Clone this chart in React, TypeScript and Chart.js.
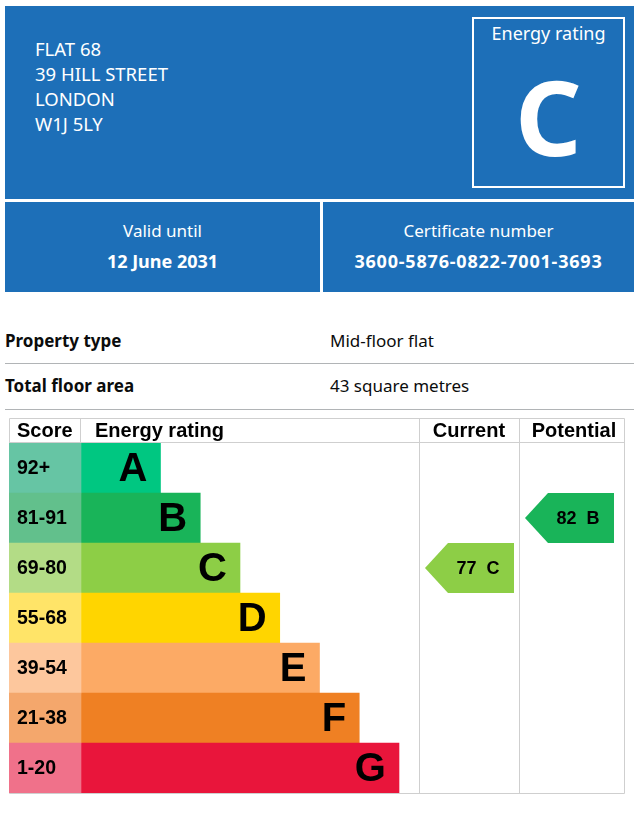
import React, { useEffect, useRef } from "react";
import { Chart, registerables } from "chart.js";

Chart.register(...registerables);

// ---- data ----
const addressLines = ["FLAT 68", "39 HILL STREET", "LONDON", "W1J 5LY"];
const headlineRating = "C";
const validUntil = "12 June 2031";
const certificateNumber = "3600-5876-0822-7001-3693";
const propertyLabels = ["Property type", "Total floor area"];
const propertyValues = ["Mid-floor flat", "43 square metres"];

const ratings = ["A", "B", "C", "D", "E", "F", "G"];
const scoreBands = ["92+", "81-91", "69-80", "55-68", "39-54", "21-38", "1-20"];
const bandMinimums = [92, 81, 69, 55, 39, 21, 1];
const barLengths = [2, 3, 4, 5, 6, 7, 8];
const barColors = ["#00c781", "#19b459", "#8dce46", "#ffd500", "#fcaa65", "#ef8023", "#e9153b"];
const scoreColors = ["#66c5a4", "#62c08c", "#b3dc86", "#ffe468", "#fdc79d", "#f4a76c", "#f0718a"];
const currentScore = 77;
const potentialScore = 82;
const columnTitles = ["Score", "Energy rating", "Current", "Potential"];

// scale layout (in x-axis units)
const X_MAX = 15.497;
const SCORE_COL = 1.811;
const CURRENT_COL = 10.314;
const POTENTIAL_COL = 12.83;

const BLUE = "#1d6fb8";
const INK = "#0b0c0c";
const ARIAL = "'Liberation Sans', Arial, sans-serif";
const GDS = "'Noto Sans', sans-serif";

const bandOf = (score: number) => bandMinimums.findIndex((m) => score >= m);

const epcPlugin = {
  id: "epcTable",
  beforeDatasetsDraw(chart: any) {
    const { ctx, chartArea, scales } = chart;
    const x = scales.x;
    const W = chart.width;
    ctx.save();
    ctx.strokeStyle = "#cfcfcf";
    ctx.lineWidth = 1;
    const bottom = chartArea.bottom + 0.5;
    ctx.beginPath();
    ctx.rect(0.5, 0.5, W - 1, bottom - 0.5);
    ctx.moveTo(0, chartArea.top - 0.5);
    ctx.lineTo(W, chartArea.top - 0.5);
    const d = Math.round(x.getPixelForValue(SCORE_COL)) - 0.5;
    ctx.moveTo(d, 0);
    ctx.lineTo(d, chartArea.top);
    for (const v of [CURRENT_COL, POTENTIAL_COL]) {
      const px = Math.round(x.getPixelForValue(v)) + 0.5;
      ctx.moveTo(px, 0);
      ctx.lineTo(px, bottom);
    }
    ctx.stroke();
    ctx.restore();
  },
  afterDatasetsDraw(chart: any) {
    const { ctx, chartArea, scales } = chart;
    const x = scales.x;
    const y = scales.y;
    ctx.save();
    ctx.fillStyle = "#000";
    ctx.textBaseline = "middle";

    const hy = chartArea.top / 2 + 1;
    ctx.font = `bold 20px ${ARIAL}`;
    ctx.textAlign = "left";
    ctx.fillText(columnTitles[0], 8, hy);
    ctx.fillText(columnTitles[1], x.getPixelForValue(SCORE_COL) + 14, hy);
    ctx.textAlign = "center";
    const cL = x.getPixelForValue(CURRENT_COL);
    const pL = x.getPixelForValue(POTENTIAL_COL);
    const pR = x.getPixelForValue(X_MAX);
    ctx.fillText(columnTitles[2], (cL + pL) / 2, hy);
    ctx.fillText(columnTitles[3], (pL + pR) / 2 + 2, hy);

    ratings.forEach((r, i) => {
      const cy = y.getPixelForValue(i);
      ctx.textAlign = "left";
      ctx.font = `bold 19.5px ${ARIAL}`;
      ctx.fillText(scoreBands[i], 8, cy + 1);
      ctx.textAlign = "right";
      ctx.font = `bold 40px ${ARIAL}`;
      ctx.fillText(r, x.getPixelForValue(SCORE_COL + barLengths[i]) - 13, cy + 2);
    });

    const rowH = y.getPixelForValue(1) - y.getPixelForValue(0);
    const arrowW = pL - cL - 11;
    const drawArrow = (colLeft: number, score: number) => {
      const b = bandOf(score);
      const cy = y.getPixelForValue(b);
      const top = cy - rowH / 2;
      const bot = cy + rowH / 2;
      const tip = colLeft + 6;
      const corner = tip + 23;
      const right = tip + arrowW;
      ctx.fillStyle = barColors[b];
      ctx.beginPath();
      ctx.moveTo(tip, cy);
      ctx.lineTo(corner, top);
      ctx.lineTo(right, top);
      ctx.lineTo(right, bot);
      ctx.lineTo(corner, bot);
      ctx.closePath();
      ctx.fill();
      ctx.fillStyle = "#000";
      ctx.font = `bold 18px ${ARIAL}`;
      ctx.textAlign = "center";
      ctx.fillText(`${score}  ${ratings[b]}`, (corner + right) / 2 - 3, cy + 1);
    };
    drawArrow(cL, currentScore);
    drawArrow(pL, potentialScore);
    ctx.restore();
  },
};

function EpcChart() {
  const ref = useRef<HTMLCanvasElement>(null);
  useEffect(() => {
    if (!ref.current) return;
    const chart = new Chart(ref.current, {
      type: "bar",
      data: {
        labels: ratings,
        datasets: [
          {
            label: "Score",
            data: ratings.map(() => [0, SCORE_COL]) as any,
            backgroundColor: scoreColors,
            grouped: false,
            barPercentage: 1,
            categoryPercentage: 1,
            borderWidth: 0,
          } as any,
          {
            label: "Energy rating",
            data: barLengths.map((l) => [SCORE_COL, SCORE_COL + l]) as any,
            backgroundColor: barColors,
            grouped: false,
            barPercentage: 1,
            categoryPercentage: 1,
            borderWidth: 0,
          } as any,
        ],
      },
      options: {
        indexAxis: "y",
        animation: false,
        responsive: false,
        maintainAspectRatio: false,
        layout: { padding: { top: 25, bottom: 2, left: 0, right: 0 } },
        plugins: { legend: { display: false }, tooltip: { enabled: false } },
        scales: {
          x: { type: "linear", min: 0, max: X_MAX, display: false },
          y: { type: "category", display: false },
        },
      },
      plugins: [epcPlugin],
    });
    return () => chart.destroy();
  }, []);
  return <canvas ref={ref} width={616} height={377} style={{ position: "absolute", left: 9, top: 418, width: 616, height: 377 }} />;
}

const abs = (l: number, t: number, w: number, h: number, extra: any = {}) => ({
  position: "absolute" as const,
  left: l,
  top: t,
  width: w,
  height: h,
  ...extra,
});

export default function App() {
  return (
    <div style={{ position: "absolute", left: 0, top: 0, width: 641, height: 832, background: "#fff", fontFamily: GDS, color: INK }}>
      <div style={abs(5, 6, 629, 193, { background: BLUE })} />
      {addressLines.map((line, i) => (
        <div key={i} style={abs(35, 36 + i * 25, 300, 25, { color: "#fff", fontSize: 18.5, lineHeight: "25px" })}>
          {line}
        </div>
      ))}
      <div style={abs(472, 17, 153, 171, { border: "2px solid #fff", boxSizing: "border-box" })} />
      <div style={abs(472, 20, 153, 26, { color: "#fff", fontSize: 18, lineHeight: "26px", textAlign: "center" })}>Energy rating</div>
      <div style={abs(472, 56, 153, 120, { color: "#fff", fontSize: 104, fontWeight: 700, lineHeight: "120px", textAlign: "center" })}>
        {headlineRating}
      </div>

      <div style={abs(5, 202, 315, 90, { background: BLUE })} />
      <div style={abs(323, 202, 311, 90, { background: BLUE })} />
      <div style={abs(5, 218, 315, 26, { color: "#fff", fontSize: 17, lineHeight: "26px", textAlign: "center" })}>Valid until</div>
      <div style={abs(5, 248, 315, 26, { color: "#fff", fontSize: 18, fontWeight: 700, lineHeight: "26px", textAlign: "center" })}>{validUntil}</div>
      <div style={abs(323, 218, 311, 26, { color: "#fff", fontSize: 17, lineHeight: "26px", textAlign: "center" })}>Certificate number</div>
      <div style={abs(323, 248, 311, 26, { color: "#fff", fontSize: 18, fontWeight: 700, lineHeight: "26px", textAlign: "center", letterSpacing: 0.8 })}>{certificateNumber}</div>

      {propertyLabels.map((lab, i) => (
        <React.Fragment key={lab}>
          <div style={abs(5, 328 + i * 45, 300, 26, { fontSize: 17, fontWeight: 700, lineHeight: "26px" })}>{lab}</div>
          <div style={abs(330, 328 + i * 45, 300, 26, { fontSize: 17, lineHeight: "26px" })}>{propertyValues[i]}</div>
          <div style={abs(5, 363 + i * 46, 629, 1, { background: "#b1b4b6" })} />
        </React.Fragment>
      ))}

      <EpcChart />
    </div>
  );
}
